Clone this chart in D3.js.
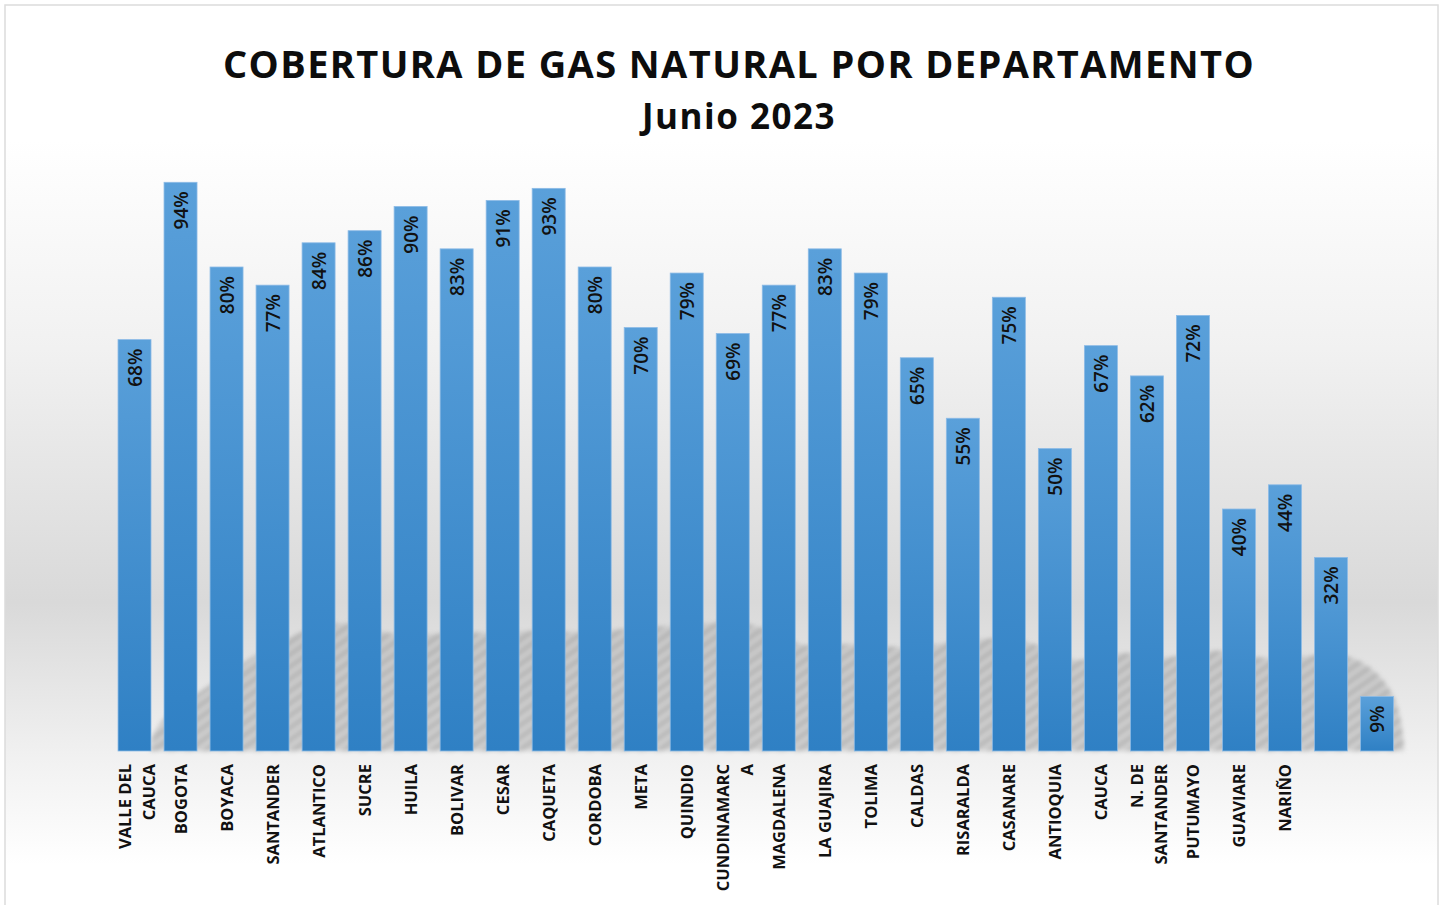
<!DOCTYPE html>
<html>
<head>
<meta charset="utf-8">
<script src="https://cdn.jsdelivr.net/npm/d3@7"></script>
<style>
  html, body { margin: 0; padding: 0; background: #ffffff; }
  svg { display: block; }
</style>
</head>
<body>
<svg id="chart" width="1443" height="905"></svg>
<script>
// ---- data ----
const title = "COBERTURA DE GAS NATURAL POR DEPARTAMENTO";
const subtitle = "Junio 2023";
const categories = [
  "VALLE DEL|CAUCA", "BOGOTA", "BOYACA", "SANTANDER", "ATLANTICO", "SUCRE", "HUILA",
  "BOLIVAR", "CESAR", "CAQUETA", "CORDOBA", "META", "QUINDIO", "CUNDINAMARC|A",
  "MAGDALENA", "LA GUAJIRA", "TOLIMA", "CALDAS", "RISARALDA", "CASANARE", "ANTIOQUIA",
  "CAUCA", "N. DE|SANTANDER", "PUTUMAYO", "GUAVIARE", "NARIÑO", "", ""
];
const values = [68, 94, 80, 77, 84, 86, 90, 83, 91, 93, 80, 70, 79, 69, 77, 83, 79, 65, 55, 75, 50, 67, 62, 72, 40, 44, 32, 9];
const valueLabels = values.map(v => v + "%");
// decorative background shadow wave (x, y in pixels) - not data
const shadowWave = [[150,745],[157,720],[203,690],[250,657],[297,633],[342,617],[389,637],[436,633],[483,633],[531,630],[567,633],[616,630],[705,623],[757,620],[805,653],[857,640],[897,650],[942,643],[985,637],[1037,640],[1075,668],[1120,647],[1165,663],[1210,645],[1255,660],[1300,657],[1353,650],[1398,690],[1404,745]];

// ---- layout ----
const svg = d3.select("#chart");
const plotTop = 146, baseY = 751;

const defs = svg.append("defs");
const bg = defs.append("linearGradient").attr("id", "bgGrad")
  .attr("x1", 0).attr("y1", 0).attr("x2", 0).attr("y2", 1);
[[0, "#ffffff"], [0.15, "#ffffff"], [0.38, "#f1f1f1"], [0.66, "#d9d9d9"], [0.84, "#f2f2f2"], [0.95, "#ffffff"], [1, "#ffffff"]]
  .forEach(([o, c]) => bg.append("stop").attr("offset", o).attr("stop-color", c));

const barGrad = defs.append("linearGradient").attr("id", "barGrad")
  .attr("x1", 0).attr("y1", 0).attr("x2", 0).attr("y2", 1);
barGrad.append("stop").attr("offset", 0).attr("stop-color", "#5aa0da");
barGrad.append("stop").attr("offset", 1).attr("stop-color", "#2f80c4");

const hatch = defs.append("pattern").attr("id", "hatch")
  .attr("patternUnits", "userSpaceOnUse").attr("width", 10).attr("height", 10)
  .attr("patternTransform", "rotate(-35)");
hatch.append("rect").attr("width", 10).attr("height", 10).attr("fill", "#c6c6c6");
hatch.append("rect").attr("width", 10).attr("height", 5).attr("fill", "#a6a6a6");

const blur = defs.append("filter").attr("id", "blur").attr("x", "-5%").attr("y", "-10%").attr("width", "110%").attr("height", "120%");
blur.append("feGaussianBlur").attr("stdDeviation", 2);

// frame/background
svg.append("rect").attr("x", 5).attr("y", 5).attr("width", 1433).attr("height", 905)
  .attr("fill", "url(#bgGrad)").attr("stroke", "#dcdcdc").attr("stroke-width", 1.5);

// scales
const x = d3.scaleBand()
  .domain(d3.range(values.length))
  .range([111.5, 1400])
  .paddingInner(0.283)
  .paddingOuter(0.1415);
const y = d3.scaleLinear().domain([0, 100]).range([baseY, plotTop]);

// decorative shadow
const area = d3.area().x(d => d[0]).y0(baseY).y1(d => d[1]).curve(d3.curveBasis);
svg.append("path").datum(shadowWave).attr("d", area)
  .attr("fill", "url(#hatch)").attr("opacity", 0.75).attr("filter", "url(#blur)");

// bars
svg.append("g").selectAll("rect").data(values).join("rect")
  .attr("x", (d, i) => x(i))
  .attr("y", d => y(d))
  .attr("width", x.bandwidth())
  .attr("height", d => baseY - y(d))
  .attr("fill", "url(#barGrad)")
  .attr("stroke", "#8dbbe6")
  .attr("stroke-width", 0.8);

// value labels
svg.append("g").selectAll("text").data(values).join("text")
  .attr("transform", (d, i) => `translate(${x(i) + x.bandwidth() / 2 + 7},${y(d) + 9}) rotate(-90)`)
  .attr("text-anchor", "end")
  .attr("font-family", "'Open Sans', sans-serif")
  .attr("font-weight", 600)
  .attr("font-size", 19)
  .attr("fill", "#111111")
  .text((d, i) => valueLabels[i]);

// category labels
const catG = svg.append("g");
categories.forEach((c, i) => {
  if (!c) return;
  const lines = c.split("|");
  const cx = x(i) + x.bandwidth() / 2;
  const lh = 24;
  lines.forEach((ln, k) => {
    const off = (k - (lines.length - 1) / 2) * lh + 6.5 + (lines.length > 1 ? 1.5 : 0);
    catG.append("text")
      .attr("transform", `translate(${cx + off},764) rotate(-90)`)
      .attr("text-anchor", "end")
      .attr("font-family", "'Open Sans', sans-serif")
      .attr("font-weight", 700)
      .attr("font-size", 16.5)
      .attr("fill", "#111111")
      .text(ln);
  });
});

// titles
svg.append("text")
  .attr("x", 739).attr("y", 78)
  .attr("text-anchor", "middle")
  .attr("font-family", "'Open Sans', sans-serif")
  .attr("font-weight", 700)
  .attr("font-size", 38)
  .attr("letter-spacing", 1.4)
  .attr("fill", "#0d0d0d")
  .text(title);

svg.append("text")
  .attr("x", 739).attr("y", 129)
  .attr("text-anchor", "middle")
  .attr("font-family", "'Open Sans', sans-serif")
  .attr("font-weight", 700)
  .attr("font-size", 35)
  .attr("letter-spacing", 1.5)
  .attr("fill", "#0d0d0d")
  .text(subtitle);
</script>
</body>
</html>
